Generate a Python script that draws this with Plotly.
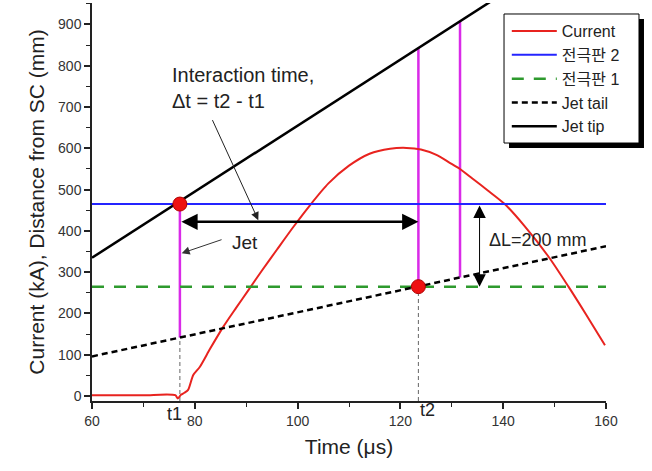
import plotly.graph_objects as go
import numpy as np

# ---------------- data ----------------
time_us = [60, 70, 76.2, 76.7, 77.3, 78, 78.7, 79.7, 81, 83, 85.5, 88, 90.4, 93, 96, 99.2,
           102.4, 106, 110, 114, 118, 121.2, 124, 127, 129.6, 131.6, 134, 137, 140.3, 144,
           148.8, 152.7, 156, 159.8]
current_kA = [2, 2, 2, -6, 3, 8, 15, 51, 71, 115, 167, 213, 256, 303, 355, 410,
              462, 515, 558, 587, 599, 601, 597, 584, 565, 550, 527, 498, 465, 414,
              338, 265, 200, 123]

plate_x = [60, 160]
plate2_mm = [465, 465]      # 전극판 2
plate1_mm = [265, 265]      # 전극판 1

jet_x = [60, 160]
jet_tail_mm = [96, 363]
jet_tip_mm = [335, 1135]

t1 = 77.1
t2 = 123.5
t3 = 131.6
arrow_y = 422
dL_x = 135.4

def tip(x):
    return float(np.interp(x, jet_x, jet_tip_mm))

def tail(x):
    return float(np.interp(x, jet_x, jet_tail_mm))

FONT = "Arial, 'Liberation Sans', 'Noto Sans CJK KR', sans-serif"
RED = "#e8231f"
BLUE = "#2424ff"
GREEN = "#2e9a2e"
MAG = "#d92ae8"

fig = go.Figure()

# vertical magenta lines
for xx, y0, y1 in [(t1, tail(t1), tip(t1)), (t2, plate1_mm[0], tip(t2)), (t3, tail(t3), tip(t3))]:
    fig.add_trace(go.Scatter(x=[xx, xx], y=[y0, y1], mode="lines",
                             line=dict(color=MAG, width=2.5), showlegend=False, hoverinfo="skip"))
# thin dashed guides to axis
for xx, y0 in [(t1, tail(t1)), (t2, plate1_mm[0])]:
    fig.add_trace(go.Scatter(x=[xx, xx], y=[-12, y0], mode="lines",
                             line=dict(color="#666666", width=1, dash="4px,3px"),
                             showlegend=False, hoverinfo="skip"))

fig.add_trace(go.Scatter(x=time_us, y=current_kA, mode="lines", name="Current",
                         line=dict(color=RED, width=2, shape="spline", smoothing=0.7)))
fig.add_trace(go.Scatter(x=plate_x, y=plate2_mm, mode="lines", name="전극판 2",
                         line=dict(color=BLUE, width=2)))
fig.add_trace(go.Scatter(x=plate_x, y=plate1_mm, mode="lines", name="전극판 1",
                         line=dict(color=GREEN, width=2.5, dash="12px,10px")))
fig.add_trace(go.Scatter(x=jet_x, y=jet_tail_mm, mode="lines", name="Jet tail",
                         line=dict(color="black", width=2.5, dash="6px,4px")))
fig.add_trace(go.Scatter(x=jet_x, y=jet_tip_mm, mode="lines", name="Jet tip",
                         line=dict(color="black", width=2.5)))

# red dots
fig.add_trace(go.Scatter(x=[t1, t2], y=[plate2_mm[0], plate1_mm[0]], mode="markers",
                         marker=dict(color="#ee1111", size=14, line=dict(color="#b00000", width=1)),
                         showlegend=False, hoverinfo="skip"))

annotations = [
    # horizontal double arrow (interaction time)
    dict(x=t2, y=arrow_y, ax=t1, ay=arrow_y, xref="x", yref="y", axref="x", ayref="y",
         text="", showarrow=True, arrowside="end+start", arrowhead=2, startarrowhead=2,
         arrowsize=1.3, startarrowsize=1.3, arrowwidth=2.5, arrowcolor="black"),
    # delta L arrow
    dict(x=dL_x, y=plate1_mm[0], ax=dL_x, ay=plate2_mm[0], xref="x", yref="y", axref="x", ayref="y",
         text="", showarrow=True, arrowside="end+start", arrowhead=2, startarrowhead=2,
         arrowsize=2.5, startarrowsize=2.5, arrowwidth=1, arrowcolor="black"),
    # pointer from interaction text
    dict(x=92.35, y=426, ax=83.3, ay=672, xref="x", yref="y", axref="x", ayref="y",
         text="", showarrow=True, arrowhead=2, arrowsize=1.6, arrowwidth=1, arrowcolor="#222222"),
    # pointer from Jet text
    dict(x=77.45, y=346, ax=85.5, ay=380, xref="x", yref="y", axref="x", ayref="y",
         text="", showarrow=True, arrowhead=2, arrowsize=1.6, arrowwidth=1, arrowcolor="#333333"),
    dict(x=75.2, y=808, xref="x", yref="y", xanchor="left", yanchor="top", align="left",
         text="Interaction time,<br>Δt = t2 - t1", showarrow=False,
         font=dict(family=FONT, size=20, color="#222222")),
    dict(x=86.85, y=371, xref="x", yref="y", xanchor="left", yanchor="middle",
         text="Jet", showarrow=False, font=dict(family=FONT, size=19, color="#222222")),
    dict(x=136.85, y=378, xref="x", yref="y", xanchor="left", yanchor="middle",
         text="ΔL=200 mm", showarrow=False, font=dict(family=FONT, size=18, color="#222222")),
    dict(x=76.0, y=-0.032, xref="x", yref="paper", xanchor="center", yanchor="middle",
         text="t1", showarrow=False, font=dict(family=FONT, size=18, color="#222222")),
    dict(x=125.2, y=-0.022, xref="x", yref="paper", xanchor="center", yanchor="middle",
         text="t2", showarrow=False, font=dict(family=FONT, size=18, color="#222222")),
]

shapes = [
    # legend shadow
    dict(type="rect", xref="paper", yref="paper", x0=0.8113, x1=1.0739, y0=0.6357, y1=0.9598,
         fillcolor="black", line=dict(width=0), layer="above"),
    # legend box
    dict(type="rect", xref="paper", yref="paper", x0=0.8016, x1=1.0642, y0=0.6482, y1=0.9724,
         fillcolor="white", line=dict(color="black", width=1), layer="above"),
]

fig.update_layout(
    width=652, height=471,
    margin=dict(l=92, r=46, t=3, b=70),
    paper_bgcolor="white", plot_bgcolor="white",
    font=dict(family=FONT, color="#222222"),
    showlegend=True,
    legend=dict(x=0.807, y=0.972, xanchor="left", yanchor="top",
                bgcolor="rgba(0,0,0,0)", borderwidth=0,
                font=dict(family=FONT, size=16, color="#222222"),
                itemwidth=45, tracegroupgap=0),
    annotations=annotations,
    shapes=shapes,
)

fig.update_xaxes(range=[60, 160], tickvals=[60, 80, 100, 120, 140, 160],
                 showline=True, linecolor="#222222", linewidth=1.5, mirror=False,
                 ticks="outside", ticklen=6, tickwidth=1.5, tickcolor="#222222",
                 minor=dict(dtick=10, ticks="outside", ticklen=4, tickwidth=1, tickcolor="#222222"),
                 showgrid=False, zeroline=False,
                 tickfont=dict(family=FONT, size=14, color="#333333"),
                 title=dict(text="Time (μs)", standoff=12,
                            font=dict(family=FONT, size=21, color="#222222")))
fig.update_yaxes(range=[-12, 952], tickvals=list(range(0, 901, 100)),
                 showline=True, linecolor="#222222", linewidth=1.5, mirror=False,
                 ticks="outside", ticklen=6, tickwidth=1.5, tickcolor="#222222",
                 minor=dict(dtick=50, ticks="outside", ticklen=4, tickwidth=1, tickcolor="#222222"),
                 showgrid=False, zeroline=False,
                 tickfont=dict(family=FONT, size=14, color="#333333"),
                 title=dict(text="Current (kA), Distance from SC (mm)", standoff=8,
                            font=dict(family=FONT, size=21, color="#222222")))

fig.write_html("out.html")
